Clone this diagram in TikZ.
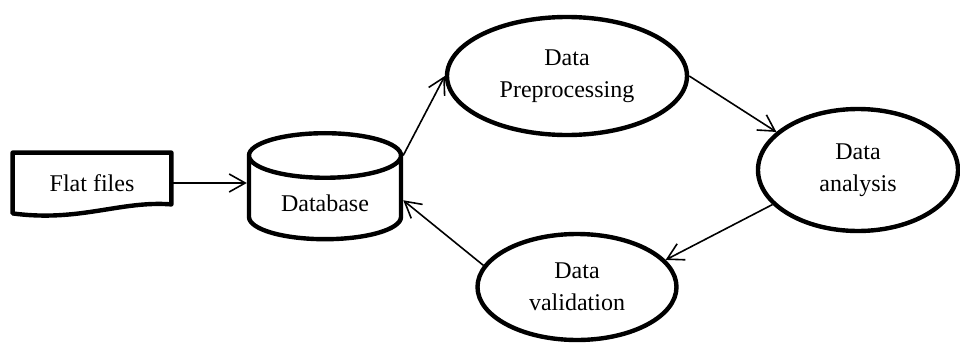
\documentclass[tikz,border=0pt]{standalone}
\usepackage{fontspec}
\setmainfont{Liberation Serif}
\usetikzlibrary{shapes,arrows.meta,positioning}

\tikzstyle{proc} = [ellipse, draw=black, line width=2.2pt, text=black, align=center, inner sep=0pt, font=\fontsize{12}{16}\selectfont]
\tikzstyle{store} = [cylinder, shape border rotate=90, aspect=0.44, draw=black, line width=2.2pt, minimum width=76pt, minimum height=53pt, text=black, font=\fontsize{12}{16}\selectfont]
\tikzstyle{doc} = [rectangle, minimum width=79pt, minimum height=30pt, text=black, font=\fontsize{12}{16}\selectfont]
\tikzstyle{docline} = [draw=black, line width=2.2pt, line join=round]
\tikzstyle{tedge}  = [draw, line width=0.8pt, -{Straight Barb[length=8pt,width=9pt]}]

\begin{document}
\begin{tikzpicture}[auto]

\useasboundingbox (0,0) rectangle (480pt,-171.5pt);

% nodes =============================

% input
\node[doc] (flat) at (46pt,-91.5pt) {Flat files};
\path[docline] (flat.north west) -- (flat.north east) -- ([yshift=4.5pt]flat.south east)
  .. controls +(-25.5pt,2pt) and +(33.5pt,-4.5pt) .. (flat.south west) -- cycle;

% store
\node[store, on grid, below right=10pt and 116.5pt of flat] (db) {Database};

% processing
\node[proc, minimum width=120pt, minimum height=59pt, on grid, above right=63.5pt and 121pt of db] (prep) {Data\\Preprocessing};
\node[proc, minimum width=100pt, minimum height=61pt, on grid, below right=47pt and 145.5pt of prep] (anal) {Data\\analysis};
\node[proc, minimum width=99.5pt, minimum height=53pt, on grid, below right=42pt and 126pt of db] (valid) {Data\\validation};

%edges
\path[tedge] (flat.east) -- (db.west |- flat.east);
\path[tedge] (db.after top) -- (prep.west);
\path[tedge] (prep.east) -- (anal.155);
\path[tedge] (anal.202) -- (valid.17);
\path[tedge] (valid.167) -- (db.2);

\end{tikzpicture}
\end{document}
